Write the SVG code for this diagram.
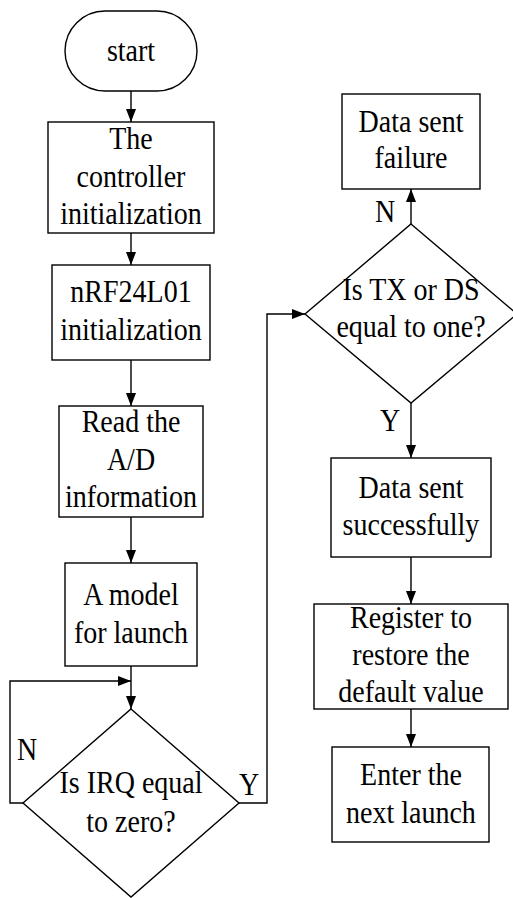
<svg xmlns="http://www.w3.org/2000/svg" width="513" height="898" viewBox="0 0 513 898">
<defs>
<marker id="arr" markerUnits="userSpaceOnUse" markerWidth="14" markerHeight="10" refX="13" refY="5" orient="auto">
<path d="M0,0 L13,5 L0,10 z" fill="#000"/>
</marker>
<style>
.s{fill:#fff;stroke:#000;stroke-width:1.4}
.c{fill:none;stroke:#000;stroke-width:1.4}
.t{font-family:'Liberation Serif','DejaVu Serif',serif;font-size:32px;fill:#000;text-anchor:middle;transform-box:fill-box;transform-origin:center;transform:scaleX(0.875)}
</style>
</defs>
<rect width="513" height="898" fill="#fff"/>
<g id="connectors">
<path class="c" d="M131,91 V122" marker-end="url(#arr)"/>
<path class="c" d="M131,233 V265" marker-end="url(#arr)"/>
<path class="c" d="M131,360 V406" marker-end="url(#arr)"/>
<path class="c" d="M131,517 V563" marker-end="url(#arr)"/>
<path class="c" d="M131,666 V709" marker-end="url(#arr)"/>
<path class="c" d="M23,803 H10 V681 H131" marker-end="url(#arr)"/>
<path class="c" d="M239,803 H267 V314 H305" marker-end="url(#arr)"/>
<path class="c" d="M411,224 V189" marker-end="url(#arr)"/>
<path class="c" d="M411,403 V458" marker-end="url(#arr)"/>
<path class="c" d="M411,557 V604" marker-end="url(#arr)"/>
<path class="c" d="M411,709 V747" marker-end="url(#arr)"/>
<text class="t" x="27" y="760">N</text>
<text class="t" x="249" y="795">Y</text>
<text class="t" x="385" y="222">N</text>
<text class="t" x="390" y="431">Y</text>
</g>
<g id="start">
<rect class="s" x="65" y="11" width="132" height="80" rx="40" ry="40"/>
<text class="t" x="131" y="61">start</text>
</g>
<g id="ctrl-init">
<rect class="s" x="48" y="122" width="166" height="111"/>
<text class="t" x="131" y="149">The</text>
<text class="t" x="131" y="187">controller</text>
<text class="t" x="131" y="224">initialization</text>
</g>
<g id="nrf-init">
<rect class="s" x="52" y="265" width="158" height="95"/>
<text class="t" x="131" y="302">nRF24L01</text>
<text class="t" x="131" y="340">initialization</text>
</g>
<g id="read-ad">
<rect class="s" x="59" y="406" width="144" height="111"/>
<text class="t" x="131" y="432">Read the</text>
<text class="t" x="131" y="470">A/D</text>
<text class="t" x="131" y="507">information</text>
</g>
<g id="model">
<rect class="s" x="65" y="563" width="132" height="103"/>
<text class="t" x="131" y="605">A model</text>
<text class="t" x="131" y="643">for launch</text>
</g>
<g id="irq">
<polygon class="s" points="131,709 239,803 131,897 23,803"/>
<text class="t" x="131" y="793">Is IRQ equal</text>
<text class="t" x="131" y="832">to zero?</text>
</g>
<g id="txds">
<polygon class="s" points="411,224 517,314 411,403 305,314"/>
<text class="t" x="411" y="300">Is TX or DS</text>
<text class="t" x="411" y="337">equal to one?</text>
</g>
<g id="fail">
<rect class="s" x="342" y="94" width="138" height="95"/>
<text class="t" x="411" y="132">Data sent</text>
<text class="t" x="411" y="168">failure</text>
</g>
<g id="success">
<rect class="s" x="331" y="458" width="160" height="99"/>
<text class="t" x="411" y="498">Data sent</text>
<text class="t" x="411" y="535">successfully</text>
</g>
<g id="register">
<rect class="s" x="314" y="604" width="194" height="105"/>
<text class="t" x="411" y="628">Register to</text>
<text class="t" x="411" y="665">restore the</text>
<text class="t" x="411" y="702">default value</text>
</g>
<g id="enter">
<rect class="s" x="332" y="747" width="157" height="95"/>
<text class="t" x="411" y="785">Enter the</text>
<text class="t" x="411" y="823">next launch</text>
</g>
</svg>
